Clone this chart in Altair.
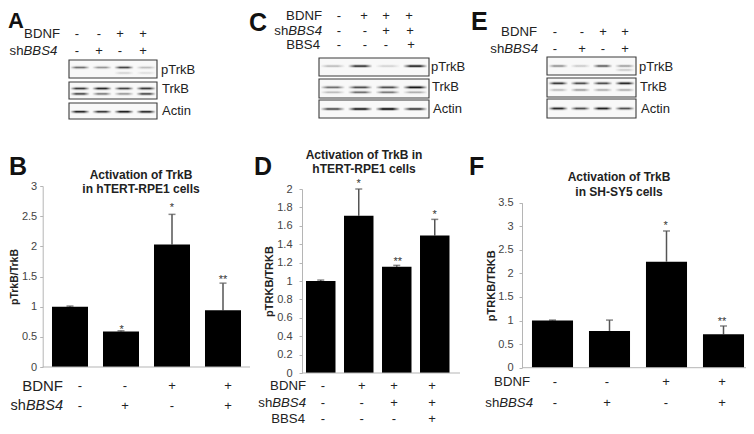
import altair as alt
import pandas as pd

FONT = "Liberation Sans"
LANES = ["1", "2", "3", "4"]

# ---- chart values
B_VALUES = [1.0, 0.59, 2.03, 0.94]
B_TOPS = [1.01, 0.60, 2.53, 1.39]
D_VALUES = [1.0, 1.71, 1.155, 1.495]
D_TOPS = [1.01, 2.0, 1.17, 1.67]
F_VALUES = [1.0, 0.78, 2.25, 0.71]
F_TOPS = [1.01, 1.01, 2.9, 0.885]
B_TICKS = [0, 0.5, 1, 1.5, 2, 2.5, 3]
D_TICKS = [0, 0.2, 0.4, 0.6, 0.8, 1, 1.2, 1.4, 1.6, 1.8, 2]
F_TICKS = [0, 0.5, 1, 1.5, 2, 2.5, 3, 3.5]

# ---- blot band intensities per lane
A_BLOT = {"pTrkB": [[.5, .35, .7, .2], [0, 0, .12, .08]],
          "TrkB": [[.75, .85, .7, .75], [.6, .4, .3, .65]],
          "Actin": [[.85, .75, .9, .8]]}
C_BLOT = {"pTrkB": [[.2, .75, .12, .85]],
          "TrkB": [[.5, .65, .65, .95], [.2, .5, .45, .25]],
          "Actin": [[.65, .9, 1, .75]]}
E_BLOT = {"pTrkB": [[.35, .15, .55, .3], [0, 0, 0, .15]],
          "TrkB": [[.75, .65, .65, .85], [.2, .3, .25, .25]],
          "Actin": [[.85, .65, .9, .65]]}

# ---- layout (reference pixels; the page margin is taken off here)
M = 8
def px(v):
    return v - M

def text_layer(rows, **mark):
    df = pd.DataFrame(rows, columns=["t", "x", "y", "fs"])
    df["x"] = df["x"].map(px)
    df["y"] = df["y"].map(px)
    opts = dict(font=FONT, color="#222222", baseline="middle")
    opts.update(mark)
    return alt.Chart(df).mark_text(**opts).encode(
        text="t:N",
        x=alt.X("x:Q", scale=None, axis=None),
        y=alt.Y("y:Q", scale=None, axis=None),
        size=alt.Size("fs:Q", scale=None, legend=None),
    )

def bar_panel(values, tops, ticks, axis_x, y0, y1, band, pad, base_end, ytitle, tsize, tx, lpad):
    df = pd.DataFrame({"lane": LANES, "v": values, "top": tops})
    xs = alt.Scale(type="band", domain=LANES, range=[px(band[0]), px(band[1])],
                   paddingInner=pad, paddingOuter=pad / 2)
    ys = alt.Scale(domain=[ticks[0], ticks[-1]], range=[px(y0), px(y1)], nice=False, zero=True)
    X = alt.X("lane:N", scale=xs, axis=None)
    bars = alt.Chart(df).mark_bar(color="#000000").encode(
        x=X,
        y=alt.Y("v:Q", scale=ys, axis=alt.Axis(
            orient="left", offset=-px(axis_x), values=ticks, format=".1~f", grid=False,
            domainColor="#b5b5b5", tickColor="#b5b5b5", tickSize=3, labelPadding=lpad,
            labelColor="#444444", labelFont=FONT, labelFontSize=11,
            title=ytitle, titleFont=FONT, titleFontSize=tsize, titleFontWeight="bold",
            titleColor="#222222", titleX=tx - axis_x, titleY=px((y0 + y1) / 2),
            titleBaseline="middle", titleAlign="center", titleAngle=270)),
    )
    rule = alt.Chart(df).mark_rule(color="#555555", strokeWidth=1.5).encode(
        x=X, y=alt.Y("v:Q", scale=ys, axis=None), y2="top:Q")
    cap = alt.Chart(df).mark_tick(color="#555555", thickness=1.5, size=7, orient="horizontal").encode(
        x=X, y=alt.Y("top:Q", scale=ys, axis=None))
    base = alt.Chart(df.head(1)).mark_rule(color="#b5b5b5", strokeWidth=1).encode(
        x=alt.value(px(axis_x)), x2=alt.value(px(base_end)), y=alt.Y(datum=0, scale=ys, axis=None))
    return [rule, cap, bars, base]

def blot_panel(blot, box_x, boxes, fracs):
    frames, bands = [], []
    for (name, tracks), (top, bot), fr in zip(blot.items(), boxes, fracs):
        frames.append(dict(x=px(box_x[0]), x2=px(box_x[1]), y=px(top), y2=px(bot)))
        for track, f in zip(tracks, fr):
            c = top + (bot - top) * f
            for lane, a in zip(LANES, track):
                if a > 0:
                    bands.append(dict(lane=lane, y=px(c - 1.8), y2=px(c + 1.8), op=a * 0.3))
                    bands.append(dict(lane=lane, y=px(c - 0.8), y2=px(c + 0.8), op=a))
    fr_layer = alt.Chart(pd.DataFrame(frames)).mark_rect(
        fill="#f8f8f8", stroke="#3a3a3a", strokeWidth=1.1).encode(
        x=alt.X("x:Q", scale=None, axis=None), x2="x2:Q",
        y=alt.Y("y:Q", scale=None, axis=None), y2="y2:Q")
    grad = alt.LinearGradient(gradient="linear", x1=0, x2=1, y1=0, y2=0, stops=[
        alt.GradientStop(color="#f8f8f8", offset=0),
        alt.GradientStop(color="#111111", offset=0.3),
        alt.GradientStop(color="#111111", offset=0.7),
        alt.GradientStop(color="#f8f8f8", offset=1)])
    xs = alt.Scale(type="band", domain=LANES, range=[px(box_x[0]), px(box_x[1])],
                   paddingInner=0.1, paddingOuter=0.05)
    band_layer = alt.Chart(pd.DataFrame(bands)).mark_rect(color=grad).encode(
        x=alt.X("lane:N", scale=xs, axis=None),
        y=alt.Y("y:Q", scale=None, axis=None), y2="y2:Q",
        opacity=alt.Opacity("op:Q", scale=None, legend=None))
    return [fr_layer, band_layer]

def sign_rows(xs_rows, ys, signs):
    rows = []
    for xs, y, row in zip(xs_rows, ys, signs):
        for x, s in zip(xs, row):
            rows.append((s, x, y, 13))
    return rows

layers = []

# ---- bar charts
layers += bar_panel(B_VALUES, B_TOPS, B_TICKS, 42.7, 367, 186, (44.5, 248.5), 0.294, 250,
                    "pTrkB/TrkB", 10.5, 14.5, 3)
layers += bar_panel(D_VALUES, D_TOPS, D_TICKS, 302, 373, 189, (301.75, 453.75), 0.224, 460,
                    "pTRKB/TRKB", 11, 269, 7)
layers += bar_panel(F_VALUES, F_TOPS, F_TICKS, 522, 367.7, 202.7, (524, 752), 0.28, 746,
                    "pTRKB/TRKB", 11, 491, 6)

# ---- blots
layers += blot_panel(A_BLOT, (69, 157), [(60, 78), (82, 99), (103, 119)],
                     [[.42, .72], [.38, .7], [.55]])
layers += blot_panel(C_BLOT, (319, 429), [(58, 76), (79, 98), (100, 118)],
                     [[.45], [.44, .7], [.5]])
layers += blot_panel(E_BLOT, (547, 636), [(57, 75), (78, 97), (99, 118)],
                     [[.5, .72], [.28, .63], [.5]])

# ---- + / - condition tables
two = [["-", "-", "+", "+"], ["-", "+", "-", "+"]]
three = [["-", "+", "+", "+"], ["-", "-", "+", "+"], ["-", "-", "-", "+"]]
signs = []
signs += sign_rows([[77, 99, 120, 143]] * 2, [34, 51], two)
signs += sign_rows([[80, 125, 172, 228]] * 2, [385.7, 405.7], two)
signs += sign_rows([[339, 364, 386, 409], [339, 365, 386, 410], [339, 365, 386, 411]], [16, 30.5, 45], three)
signs += sign_rows([[323, 361.7, 394, 432]] * 3, [386, 402.5, 418.5], three)
signs += sign_rows([[555, 582, 603, 625]] * 2, [32, 49], two)
signs += sign_rows([[555, 607, 666, 722]] * 2, [382, 403], two)
layers.append(text_layer(signs, align="center"))

# ---- condition row names (right aligned)
row_names = [("BDNF", 60, 34, 13.2), ("BDNF", 63, 385.7, 15), ("BDNF", 322, 16, 13.2),
             ("BBS4", 320, 45, 13.2), ("BDNF", 306, 386, 13.2), ("BBS4", 305, 418.5, 13.2),
             ("BDNF", 537, 32, 13.2), ("BDNF", 530, 382, 13.2)]
sh_ends = [(57.3, 51, 13.2), (63, 405.7, 14.5), (322, 30.5, 13.2), (306, 402.5, 13.2),
           (538, 49, 13.2), (533, 403, 13.2)]
rows_sh = [("sh", x - 2.557 * fs, y, fs) for x, y, fs in sh_ends]
rows_it = [("BBS4", x, y, fs) for x, y, fs in sh_ends]
layers.append(text_layer(row_names + rows_sh, align="right"))
layers.append(text_layer(rows_it, align="right", fontStyle="italic"))

# ---- blot labels
labels = [("pTrkB", 161, 70, 13), ("TrkB", 162, 89, 13), ("Actin", 162, 111, 13),
          ("pTrkB", 431, 67, 13), ("TrkB", 432, 87, 13), ("Actin", 433, 109, 13),
          ("pTrkB", 639, 67, 13), ("TrkB", 640, 87, 13), ("Actin", 641, 109, 13)]
layers.append(text_layer(labels, align="left"))

# ---- chart titles
titles = [("Activation of TrkB", 141, 175, 12), ("in hTERT-RPE1 cells", 141, 189, 12),
          ("Activation of TrkB in", 364, 155, 12), ("hTERT-RPE1 cells", 364, 169, 12),
          ("Activation of TrkB", 619, 177, 12), ("in SH-SY5 cells", 619, 192, 12)]
layers.append(text_layer(titles, align="center", fontWeight="bold"))

# ---- significance marks
stars = [("*", 121.7, 327, 11), ("*", 172, 205, 11), ("**", 223, 277, 11),
         ("*", 358.7, 180.7, 11), ("**", 397.7, 259, 11), ("*", 434.7, 212, 11),
         ("*", 665.7, 223, 11), ("**", 722, 319, 11)]
layers.append(text_layer([(t, x, y + 3, s) for t, x, y, s in stars], align="center", color="#333333"))

# ---- panel letters
letters = [("A", 8, 28, 22), ("B", 9, 175, 25), ("C", 249, 31, 25),
           ("D", 254, 175, 25), ("E", 471, 30, 25), ("F", 469, 175, 25)]
layers.append(text_layer(letters, align="left", baseline="alphabetic", fontWeight="bold", color="#111111"))

chart = (
    alt.layer(*layers)
    .resolve_scale(x="independent", y="independent")
    .properties(width=738, height=418, padding=0, autosize=alt.AutoSizeParams(type="none"))
    .configure_view(stroke=None)
)
chart.save("out.html", embed_options={"renderer": "svg", "actions": False})
